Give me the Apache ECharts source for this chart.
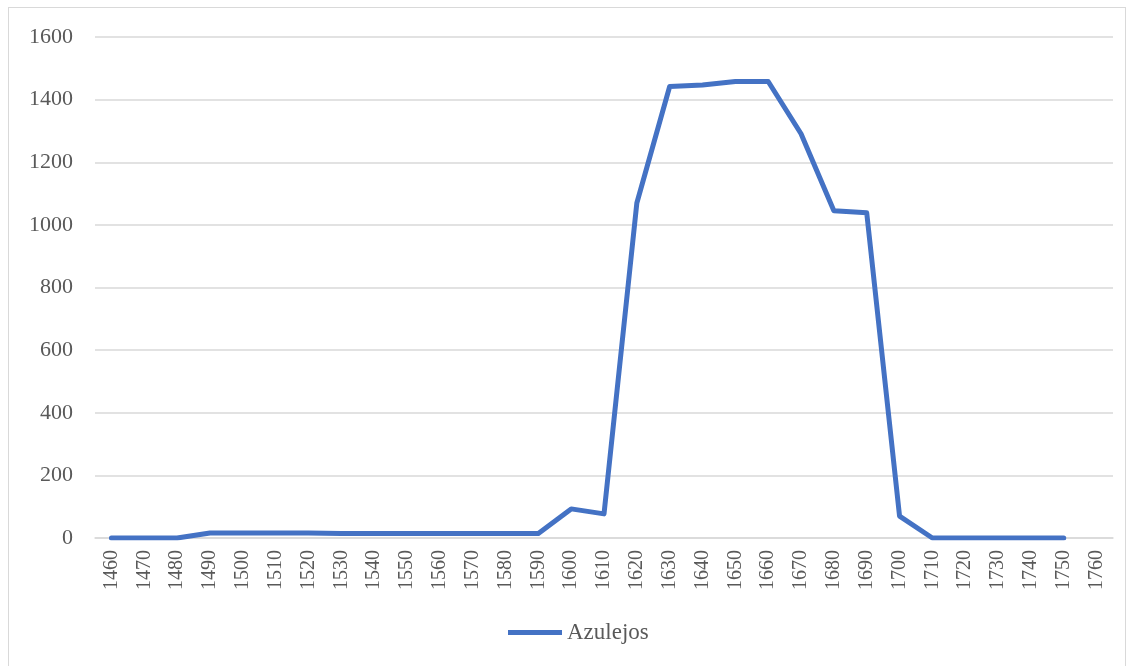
<!DOCTYPE html>
<html>
<head>
<meta charset="utf-8">
<script src="https://cdn.jsdelivr.net/npm/echarts@6/dist/echarts.min.js"></script>
<style>
html,body{margin:0;padding:0;background:#fff;}
#frame{position:absolute;left:8px;top:7px;width:1118px;height:670px;border:1.5px solid #d9d9d9;box-sizing:border-box;}
#chart{position:absolute;left:0;top:0;width:1135px;height:666px;}
</style>
</head>
<body>
<div id="frame"></div>
<div id="chart"></div>
<script>
const categories = ['1460','1470','1480','1490','1500','1510','1520','1530','1540','1550','1560','1570','1580','1590','1600','1610','1620','1630','1640','1650','1660','1670','1680','1690','1700','1710','1720','1730','1740','1750','1760'];
const azulejos = [0,0,0,16,16,16,16,14,14,14,14,14,14,14,93,77,1070,1442,1447,1458,1458,1291,1045,1039,70,0,0,0,0,0,null];
const seriesName = 'Azulejos';

const chart = echarts.init(document.getElementById('chart'));
const font = 'Liberation Serif';
chart.setOption({
  animation: false,
  backgroundColor: 'transparent',
  grid: {left: 95, right: 22, top: 37, bottom: 128, containLabel: false},
  xAxis: {
    type: 'category',
    data: categories,
    boundaryGap: true,
    axisLine: {lineStyle: {color: '#d9d9d9', width: 1.5}},
    axisTick: {show: false},
    axisLabel: {rotate: 90, margin: 12, color: '#595959', fontFamily: font, fontSize: 20, interval: 0}
  },
  yAxis: {
    type: 'value',
    min: 0, max: 1600, interval: 200,
    axisLine: {show: false},
    axisTick: {show: false},
    splitLine: {lineStyle: {color: '#d9d9d9', width: 1.5}},
    axisLabel: {margin: 22, color: '#595959', fontFamily: font, fontSize: 22, formatter: v => String(v)}
  },
  legend: {
    bottom: 17, left: 503,
    itemWidth: 54, itemHeight: 5, itemGap: 6,
    textStyle: {color: '#595959', fontFamily: font, fontSize: 23},
    data: [{name: seriesName, icon: 'rect'}]
  },
  series: [{
    name: seriesName,
    type: 'line',
    data: azulejos,
    symbol: 'none',
    lineStyle: {color: '#4472C4', width: 5, join: 'round', cap: 'round'},
    itemStyle: {color: '#4472C4'}
  }]
});
</script>
</body>
</html>
